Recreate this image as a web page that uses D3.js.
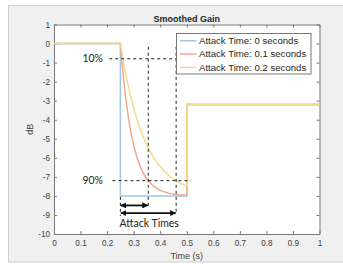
<!DOCTYPE html>
<html><head><meta charset="utf-8">
<script src="https://cdn.jsdelivr.net/npm/d3@7"></script>
<style>html,body{margin:0;padding:0;background:#fff;}svg{display:block;}</style>
</head><body>
<script>
// ---- data ----
const seriesNames = ["Attack Time: 0 seconds", "Attack Time: 0.1 seconds", "Attack Time: 0.2 seconds"];
const attackTimes = [0.25,0.26,0.27,0.28,0.29,0.30,0.31,0.32,0.33,0.34,0.35,0.36,0.37,0.38,0.39,0.40,0.41,0.42,0.43,0.44,0.45,0.46,0.47,0.48,0.49,0.50];
const gain0 = [-8,-8,-8,-8,-8,-8,-8,-8,-8,-8,-8,-8,-8,-8,-8,-8,-8,-8,-8,-8,-8,-8,-8,-8,-8,-8];
const gain01 = [0,-1.58,-2.85,-3.86,-4.68,-5.33,-5.86,-6.28,-6.62,-6.89,-7.11,-7.29,-7.43,-7.54,-7.63,-7.70,-7.76,-7.81,-7.85,-7.88,-7.90,-7.92,-7.94,-7.95,-7.96,-7.97];
const gain02 = [0,-0.83,-1.58,-2.25,-2.84,-3.38,-3.86,-4.29,-4.68,-5.02,-5.33,-5.61,-5.86,-6.08,-6.28,-6.46,-6.62,-6.76,-6.89,-7.01,-7.11,-7.20,-7.29,-7.36,-7.43,-7.49];
const holdBefore = [[0,0],[0.25,0]];
const holdAfter = [[0.5,-3.2],[1,-3.2]];
const xTicks = [0,0.1,0.2,0.3,0.4,0.5,0.6,0.7,0.8,0.9,1];
const yTicks = [1,0,-1,-2,-3,-4,-5,-6,-7,-8,-9,-10];
const level10 = -0.8, level90 = -7.2;
const attackStart = 0.25, end01 = 0.355, end02 = 0.46;

const colors = ["#9fc6e7", "#f1a88c", "#f7d98c"];

// ---- layout ----
const W = 343, H = 264;
const svg = d3.select("body").append("svg").attr("width", W).attr("height", H)
  .style("font-family", "'Liberation Sans', Arial, sans-serif");

svg.append("rect").attr("x", 8.5).attr("y", 5.5).attr("width", 340).attr("height", 256.5)
  .attr("fill", "#f0f0f0").attr("stroke", "#cfcfcf");

const x = d3.scaleLinear().domain([0, 1]).range([54, 319.5]);
const y = d3.scaleLinear().domain([-10, 1]).range([234, 24.5]);

svg.append("rect").attr("x", x(0)).attr("y", y(1)).attr("width", x(1) - x(0)).attr("height", y(-10) - y(1))
  .attr("fill", "#fff");

const axColor = "#777", txtColor = "#404040";
function styleAxis(g, labels) {
  g.select(".domain").attr("stroke", axColor);
  g.selectAll(".tick line").attr("stroke", axColor);
  g.selectAll(".tick text").attr("fill", txtColor).style("font-size", "8.2px");
  if (!labels) g.selectAll(".tick text").remove();
  g.attr("font-family", null).attr("font-size", null);
}
svg.append("g").attr("transform", `translate(0,${y(-10)})`)
  .call(d3.axisBottom(x).tickValues(xTicks).tickSizeInner(-3).tickSizeOuter(0).tickPadding(6.5).tickFormat(d3.format("")))
  .call(g => styleAxis(g, true));
svg.append("g").attr("transform", `translate(0,${y(1)})`)
  .call(d3.axisTop(x).tickValues(xTicks).tickSizeInner(-3).tickSizeOuter(0))
  .call(g => styleAxis(g, false));
svg.append("g").attr("transform", `translate(${x(0)},0)`)
  .call(d3.axisLeft(y).tickValues(yTicks).tickSizeInner(-3).tickSizeOuter(0).tickPadding(4).tickFormat(d3.format("")))
  .call(g => styleAxis(g, true));
svg.append("g").attr("transform", `translate(${x(1)},0)`)
  .call(d3.axisRight(y).tickValues(yTicks).tickSizeInner(-3).tickSizeOuter(0))
  .call(g => styleAxis(g, false));
svg.selectAll(".tick text").text(function(){ return this.textContent.replace("−", "-"); });

// ---- lines ----
const line = d3.line().x(d => x(d[0])).y(d => y(d[1]));
[gain0, gain01, gain02].forEach((vals, i) => {
  const pts = holdBefore.concat(attackTimes.map((t, k) => [t, vals[k]])).concat(holdAfter);
  svg.append("path").attr("d", line(pts)).attr("fill", "none")
    .attr("stroke", colors[i]).attr("stroke-width", 1.5);
});

// ---- annotations ----
const dash = "3,3";
function dline(x1, y1, x2, y2) {
  svg.append("line").attr("x1", x(x1)).attr("y1", y(y1)).attr("x2", x(x2)).attr("y2", y(y2))
    .attr("stroke", "#222").attr("stroke-width", 1).attr("stroke-dasharray", dash);
}
dline(0.208, level10, 0.47, level10);
dline(0.22, level90, 0.515, level90);
dline(end01, -0.17, end01, -8.65);
dline(end02, -0.17, end02, -8.95);
dline(attackStart, -8.05, attackStart, -9.05);

const ann = svg.append("g").style("font-family", "Lato, 'Open Sans', sans-serif").style("font-size", "10.5px").attr("fill", "#222");
ann.append("text").attr("x", 103).attr("y", y(level10)).attr("dy", "0.35em").attr("text-anchor", "end").text("10%");
ann.append("text").attr("x", 103).attr("y", y(level90)).attr("dy", "0.35em").attr("text-anchor", "end").text("90%");
ann.append("text").attr("x", x((attackStart + end02) / 2) + 1).attr("y", 223.5).attr("dy", "0.35em").attr("text-anchor", "middle").text("Attack Times");

const defs = svg.append("defs");
defs.append("marker").attr("id", "ah").attr("viewBox", "0 0 10 10").attr("refX", 9).attr("refY", 5)
  .attr("markerWidth", 3.4).attr("markerHeight", 3.4).attr("orient", "auto-start-reverse")
  .append("path").attr("d", "M0,0L10,5L0,10z").attr("fill", "#111");
function arrow(x1, x2, yv) {
  svg.append("line").attr("x1", x(x1) + 0.5).attr("x2", x(x2) - 0.5).attr("y1", y(yv)).attr("y2", y(yv))
    .attr("stroke", "#111").attr("stroke-width", 1.8)
    .attr("marker-start", "url(#ah)").attr("marker-end", "url(#ah)");
}
arrow(attackStart, end01, -8.5);
arrow(attackStart, end02, -8.9);

// ---- legend ----
const lg = svg.append("g");
lg.append("rect").attr("x", 176.5).attr("y", 33.5).attr("width", 134.5).attr("height", 40.5)
  .attr("fill", "#fff").attr("stroke", "#777");
seriesNames.forEach((n, i) => {
  const yy = 40.8 + i * 13.3;
  lg.append("line").attr("x1", 180).attr("x2", 196.5).attr("y1", yy).attr("y2", yy)
    .attr("stroke", colors[i]).attr("stroke-width", 1.5);
  lg.append("text").attr("x", 199).attr("y", yy).attr("dy", "0.35em").style("font-size", "9.6px")
    .attr("fill", "#262626").text(n);
});

// ---- titles ----
svg.append("text").attr("x", (x(0) + x(1)) / 2).attr("y", 21.5).attr("text-anchor", "middle")
  .style("font-size", "9px").style("font-weight", "bold").attr("fill", "#262626").text("Smoothed Gain");
svg.append("text").attr("x", (x(0) + x(1)) / 2).attr("y", 259).attr("text-anchor", "middle")
  .style("font-size", "9px").attr("fill", txtColor).text("Time (s)");
svg.append("text").attr("transform", `translate(33,${(y(1) + y(-10)) / 2}) rotate(-90)`).attr("text-anchor", "middle")
  .style("font-size", "9px").attr("fill", txtColor).text("dB");
</script>
</body></html>
